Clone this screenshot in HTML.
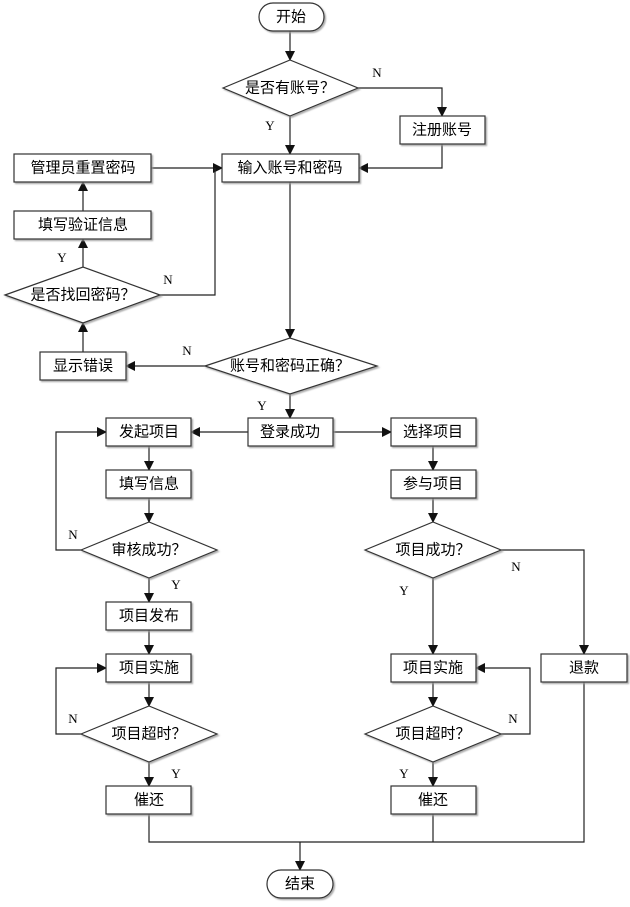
<!DOCTYPE html>
<html><head><meta charset="utf-8"><style>
html,body{margin:0;padding:0;background:#fff;}
svg{display:block;}
text{font-family:"Liberation Sans","Noto Sans CJK SC",sans-serif;font-size:15px;fill:#000;}
.l{font-family:"Liberation Serif",serif;font-size:13px;}
.b{fill:#fff;stroke:#333;stroke-width:1.2;filter:url(#s);}
.c{fill:none;stroke:#222;stroke-width:1.2;}
</style></head><body>
<svg width="630" height="907" viewBox="0 0 630 907" xmlns="http://www.w3.org/2000/svg">
<defs>
<filter id="s" x="-10%" y="-10%" width="130%" height="140%"><feDropShadow dx="1.5" dy="1.5" stdDeviation="0.8" flood-color="#999" flood-opacity="0.8"/></filter>
<marker id="a" markerWidth="10" markerHeight="10" refX="9" refY="5" orient="auto" markerUnits="userSpaceOnUse"><path d="M0,0 L10,5 L0,10 z" fill="#111"/></marker>
</defs>
<g class="c">
<path d="M290,31 V60" marker-end="url(#a)"/>
<path d="M358,88 H442 V116" marker-end="url(#a)"/>
<path d="M290,116 V154" marker-end="url(#a)"/>
<path d="M442,144 V168 H359" marker-end="url(#a)"/>
<path d="M151,168 H222" marker-end="url(#a)"/>
<path d="M160,295 H215 V168"/>
<path d="M83,211 V182" marker-end="url(#a)"/>
<path d="M83,267 V239" marker-end="url(#a)"/>
<path d="M83,352 V323" marker-end="url(#a)"/>
<path d="M290,182 V338" marker-end="url(#a)"/>
<path d="M205,366 H126" marker-end="url(#a)"/>
<path d="M290,394 V418" marker-end="url(#a)"/>
<path d="M248,432 H191" marker-end="url(#a)"/>
<path d="M333,432 H391" marker-end="url(#a)"/>
<path d="M149,446 V470" marker-end="url(#a)"/>
<path d="M433,446 V470" marker-end="url(#a)"/>
<path d="M149,498 V522" marker-end="url(#a)"/>
<path d="M433,498 V522" marker-end="url(#a)"/>
<path d="M81,550 H56 V432 H106" marker-end="url(#a)"/>
<path d="M149,578 V602" marker-end="url(#a)"/>
<path d="M149,630 V654" marker-end="url(#a)"/>
<path d="M149,682 V706" marker-end="url(#a)"/>
<path d="M81,734 H56 V668 H106" marker-end="url(#a)"/>
<path d="M149,762 V786" marker-end="url(#a)"/>
<path d="M501,550 H584 V654" marker-end="url(#a)"/>
<path d="M433,578 V654" marker-end="url(#a)"/>
<path d="M433,682 V706" marker-end="url(#a)"/>
<path d="M501,734 H530 V668 H476" marker-end="url(#a)"/>
<path d="M433,762 V786" marker-end="url(#a)"/>
<path d="M149,814 V842 H584 V682"/>
<path d="M433,814 V842"/>
<path d="M300,842 V870" marker-end="url(#a)"/>
</g>
<rect class="b" x="259" y="3" width="65" height="28" rx="14"/>
<rect class="b" x="267" y="870" width="66" height="28" rx="14"/>
<path class="b" d="M223,88 L290,60 L358,88 L290,116 Z"/>
<path class="b" d="M5,295 L83,267 L160,295 L83,323 Z"/>
<path class="b" d="M205,366 L290,338 L377,366 L290,394 Z"/>
<path class="b" d="M81,550 L149,522 L217,550 L149,578 Z"/>
<path class="b" d="M365,550 L433,522 L501,550 L433,578 Z"/>
<path class="b" d="M81,734 L149,706 L217,734 L149,762 Z"/>
<path class="b" d="M365,734 L433,706 L501,734 L433,762 Z"/>
<rect class="b" x="400" y="116" width="85" height="28"/>
<rect class="b" x="222" y="154" width="137" height="28"/>
<rect class="b" x="14" y="154" width="137" height="28"/>
<rect class="b" x="14" y="211" width="137" height="28"/>
<rect class="b" x="40" y="352" width="86" height="28"/>
<rect class="b" x="248" y="418" width="85" height="28"/>
<rect class="b" x="106" y="418" width="85" height="28"/>
<rect class="b" x="391" y="418" width="85" height="28"/>
<rect class="b" x="106" y="470" width="85" height="28"/>
<rect class="b" x="391" y="470" width="85" height="28"/>
<rect class="b" x="106" y="602" width="85" height="28"/>
<rect class="b" x="106" y="654" width="85" height="28"/>
<rect class="b" x="391" y="654" width="85" height="28"/>
<rect class="b" x="541" y="654" width="86" height="28"/>
<rect class="b" x="106" y="786" width="85" height="28"/>
<rect class="b" x="391" y="786" width="85" height="28"/>
<g text-anchor="middle" dominant-baseline="central">
<text x="291" y="17">开始</text>
<text x="300" y="884">结束</text>
<text x="290" y="88">是否有账号？</text>
<text x="83" y="295">是否找回密码？</text>
<text x="290" y="366">账号和密码正确？</text>
<text x="149" y="550">审核成功？</text>
<text x="433" y="550">项目成功？</text>
<text x="149" y="734">项目超时？</text>
<text x="433" y="734">项目超时？</text>
<text x="442" y="130">注册账号</text>
<text x="290" y="168">输入账号和密码</text>
<text x="83" y="168">管理员重置密码</text>
<text x="83" y="225">填写验证信息</text>
<text x="83" y="366">显示错误</text>
<text x="290" y="432">登录成功</text>
<text x="149" y="432">发起项目</text>
<text x="433" y="432">选择项目</text>
<text x="149" y="484">填写信息</text>
<text x="433" y="484">参与项目</text>
<text x="149" y="616">项目发布</text>
<text x="149" y="668">项目实施</text>
<text x="433" y="668">项目实施</text>
<text x="584" y="668">退款</text>
<text x="149" y="800">催还</text>
<text x="433" y="800">催还</text>
</g>
<g class="l" text-anchor="middle">
<text class="l" x="377" y="77">N</text>
<text class="l" x="270" y="130">Y</text>
<text class="l" x="168" y="284">N</text>
<text class="l" x="62" y="262">Y</text>
<text class="l" x="187" y="355">N</text>
<text class="l" x="262" y="410">Y</text>
<text class="l" x="73" y="539">N</text>
<text class="l" x="176" y="589">Y</text>
<text class="l" x="516" y="571">N</text>
<text class="l" x="404" y="595">Y</text>
<text class="l" x="73" y="723">N</text>
<text class="l" x="513" y="723">N</text>
<text class="l" x="176" y="778">Y</text>
<text class="l" x="404" y="778">Y</text>
</g>
</svg>
</body></html>
